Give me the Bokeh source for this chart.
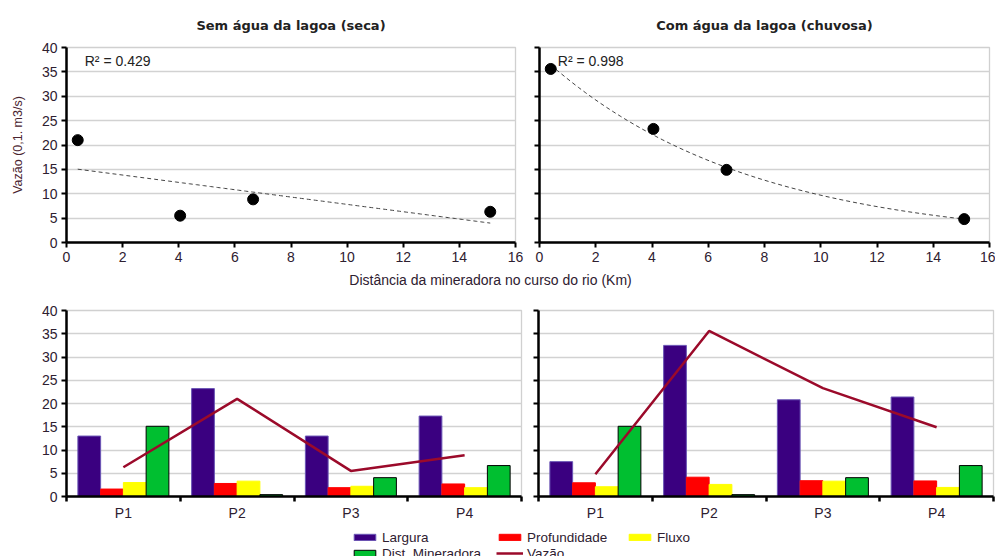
import numpy as np
from bokeh.plotting import figure
from bokeh.layouts import column, row
from bokeh.models import Range1d, FixedTicker, Label, Legend, LegendItem
from bokeh.embed import file_html
from bokeh.resources import INLINE

# ---------------- data ----------------
points = ["P1", "P2", "P3", "P4"]
dist_km = [15.1, 0.4, 4.05, 6.65]          # Dist. Mineradora (km)

largura_seca = [13.0, 23.2, 13.0, 17.3]
profund_seca = [1.6, 2.8, 1.9, 2.7]
fluxo_seca = [3.0, 3.3, 2.2, 1.9]
vazao_seca = [6.3, 21.0, 5.5, 8.85]

largura_chuv = [7.5, 32.5, 20.8, 21.4]
profund_chuv = [2.95, 4.15, 3.4, 3.35]
fluxo_chuv = [2.1, 2.6, 3.3, 1.95]
vazao_chuv = [4.8, 35.6, 23.3, 14.9]

r2_seca = "R² = 0.429"
r2_chuv = "R² = 0.998"

title_seca = "Sem água da lagoa (seca)"
title_chuv = "Com água da lagoa (chuvosa)"
x_label = "Distância da mineradora no curso do rio (Km)"
y_label = "Vazão (0,1. m3/s)"

FONT = "Liberation Sans"
TXT = "#2e2030"
C_LARG = "#3a0080"
C_PROF = "#ff0000"
C_FLUX = "#ffff00"
C_DIST = "#00bf30"
C_VAZ = "#9b0a2a"


def style_axes(p, show_y_labels=True):
    for ax in (p.xaxis[0], p.yaxis[0]):
        ax.axis_line_color = "black"
        ax.axis_line_width = 2.5
        ax.major_tick_line_color = "black"
        ax.major_tick_line_width = 2
        ax.major_tick_out = 5
        ax.major_tick_in = 0
        ax.minor_tick_line_color = None
        ax.major_label_text_font = FONT
        ax.major_label_text_font_size = "14px"
        ax.major_label_text_color = TXT
        ax.major_label_standoff = 4
    if not show_y_labels:
        p.yaxis[0].major_label_text_font_size = "0px"
        p.yaxis[0].major_label_text_color = None
    p.xgrid.grid_line_color = None
    p.ygrid.grid_line_color = "#d2d2d2"
    p.ygrid.grid_line_width = 1.3
    p.outline_line_color = "#d0d0d0"
    p.outline_line_width = 1.3
    p.background_fill_color = "white"
    p.border_fill_color = "white"


# ---------------- top scatter plots ----------------
def scatter_fig(title, vaz, r2, fit, width, bl, br, show_y_labels, ylabel=None):
    p = figure(width=width, height=268, output_backend="svg", toolbar_location=None,
               x_range=Range1d(0, 16), y_range=Range1d(0, 40),
               min_border_left=bl, min_border_right=br, min_border_top=47,
               min_border_bottom=26)
    p.title.text = title
    p.title.align = "center"
    p.title.text_font = "DejaVu Sans"
    p.title.text_font_style = "bold"
    p.title.text_font_size = "13px"
    p.title.text_color = "#222222"
    p.title.offset = 0
    p.title.standoff = 30
    p.xaxis.ticker = FixedTicker(ticks=list(range(0, 17, 2)))
    p.yaxis.ticker = FixedTicker(ticks=list(range(0, 41, 5)))
    style_axes(p, show_y_labels)
    if ylabel:
        p.yaxis.axis_label = ylabel
        p.yaxis.axis_label_text_font = FONT
        p.yaxis.axis_label_text_font_style = "normal"
        p.yaxis.axis_label_text_font_size = "12.5px"
        p.yaxis.axis_label_text_color = "#4a2430"
        p.yaxis.axis_label_standoff = 14

    x = np.array(dist_km)
    y = np.array(vaz)
    xs = np.linspace(x.min(), x.max(), 60)
    if fit == "linear":
        a, b = np.polyfit(x, y, 1)
        ys = a * xs + b
    else:
        a, b = np.polyfit(x, np.log(y), 1)
        ys = np.exp(a * xs + b)
    p.line(xs, ys, line_color="#444444", line_width=1, line_dash="4 3")
    p.scatter(x, y, size=11, color="black")
    p.add_layout(Label(x=0.65, y=37.3, text=r2, text_font=FONT, text_font_size="14px",
                       text_color="#222222", text_baseline="middle"))
    return p


p_tl = scatter_fig(title_seca, vazao_seca, r2_seca, "linear", 527, 66, 12, True, y_label)
p_tr = scatter_fig(title_chuv, vazao_chuv, r2_chuv, "exp", 468, 12, 6, False)

# ---------------- shared x label ----------------
p_xl = figure(width=995, height=22, output_backend="svg", toolbar_location=None,
              x_range=Range1d(0, 1), y_range=Range1d(0, 1),
              min_border=0, outline_line_color=None)
p_xl.axis.visible = False
p_xl.grid.visible = False
p_xl.add_layout(Label(x=490, y=11, x_units="screen", y_units="screen",
                      text=x_label, text_font=FONT, text_font_size="14px",
                      text_color=TXT, text_align="center", text_baseline="middle"))

# ---------------- bottom bar charts ----------------
series_names = ["Largura", "Profundidade", "Fluxo", "Dist. Mineradora"]
series_colors = [C_LARG, C_PROF, C_FLUX, C_DIST]
series_lines = ["#6a55b5", None, None, "black"]
offsets = [-0.3, -0.1, 0.1, 0.3]


def bar_fig(larg, prof, flux, vaz, width, bl, br, show_y_labels):
    p = figure(width=width, height=236, output_backend="svg", toolbar_location=None,
               x_range=Range1d(0, len(points)), y_range=Range1d(0, 40),
               min_border_left=bl, min_border_right=br, min_border_top=20,
               min_border_bottom=30)
    centers = np.arange(len(points)) + 0.5
    p.xaxis.ticker = FixedTicker(ticks=list(centers),
                                 minor_ticks=list(range(0, len(points) + 1)))
    p.xaxis.major_label_overrides = {float(c): n for c, n in zip(centers, points)}
    p.yaxis.ticker = FixedTicker(ticks=list(range(0, 41, 5)))
    style_axes(p, show_y_labels)
    p.xaxis.major_tick_line_color = None
    p.xaxis.minor_tick_line_color = "black"
    p.xaxis.minor_tick_line_width = 2.5
    p.xaxis.minor_tick_out = 5
    p.xaxis.minor_tick_in = 0
    p.xaxis.major_label_standoff = 3

    vals = [larg, prof, flux, dist_km]
    for v, off, col, lc in zip(vals, offsets, series_colors, series_lines):
        p.vbar(x=centers + off, top=v, width=0.2, bottom=0, fill_color=col,
               line_color=lc if lc else col, line_width=1)
    p.line(centers, vaz, line_color=C_VAZ, line_width=2.5)
    return p


p_bl = bar_fig(largura_seca, profund_seca, fluxo_seca, vazao_seca, 529, 66, 8, True)
p_br = bar_fig(largura_chuv, profund_chuv, fluxo_chuv, vazao_chuv, 466, 9, 2, False)

# ---------------- legend strip ----------------
p_lg = figure(width=995, height=30, output_backend="svg", toolbar_location=None,
              x_range=Range1d(0, 1), y_range=Range1d(0, 1),
              min_border=0, outline_line_color=None)
p_lg.axis.visible = False
p_lg.grid.visible = False
centers_lg = np.arange(len(points)) + 0.5
items = {}
for name, v, col, lc in zip(series_names,
                            [largura_seca, profund_seca, fluxo_seca, dist_km],
                            series_colors, series_lines):
    r = p_lg.vbar(x=centers_lg, top=v, width=0.2, fill_color=col,
                  line_color=lc if lc else col, visible=False)
    items[name] = LegendItem(label=name, renderers=[r])
rl = p_lg.line(centers_lg, vazao_seca, line_color=C_VAZ, line_width=2.5, visible=False)
items["Vazão"] = LegendItem(label="Vazão", renderers=[rl])

legend_columns = [(["Largura", "Dist. Mineradora"], (351, -5)),
                  (["Profundidade", "Vazão"], (496, -5)),
                  (["Fluxo"], (626, 11))]
for names, loc in legend_columns:
    leg = Legend(items=[items[n] for n in names], orientation="vertical",
                 location=loc, margin=0, padding=0, spacing=0,
                 glyph_width=27, glyph_height=8, label_height=16,
                 label_standoff=4, label_text_font=FONT, label_text_font_size="13.5px",
                 label_text_color=TXT, border_line_color=None,
                 background_fill_alpha=0, inactive_fill_alpha=0)
    p_lg.add_layout(leg, "center")

layout = column(row(p_tl, p_tr), p_xl, row(p_bl, p_br), p_lg)

open("out.html", "w").write(file_html(layout, INLINE))
